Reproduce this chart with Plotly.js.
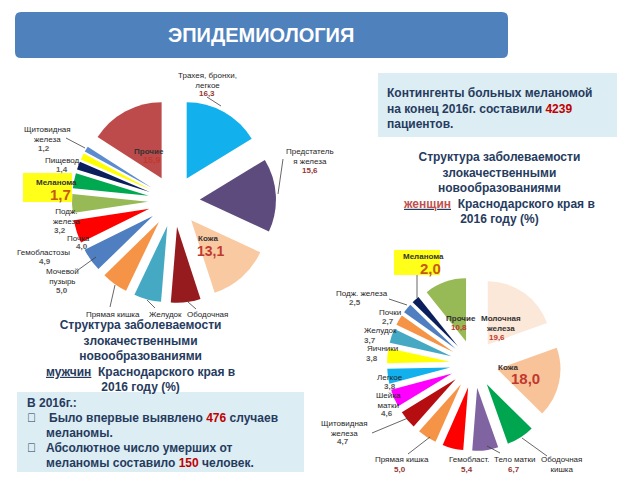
<!DOCTYPE html>
<html>
<head>
<meta charset="utf-8">
<script src="https://cdn.plot.ly/plotly-3.0.1.min.js"></script>
<style>body{margin:0;} #myDiv{width:640px;height:480px;}</style>
</head>
<body>
<div id="myDiv"></div>
<script>
// men, clockwise from 12 o'clock
var menLabels = ['Трахея, бронхи,<br>легкое', 'Предстатель<br>я железа', 'Кожа', 'Ободочная<br>кишка', 'Желудок',
  'Прямая кишка', 'Мочевой<br>пузырь', 'Гемобластозы', 'Почка', 'Подж.<br>железа', 'Меланома', 'Пищевод',
  'Щитовидная<br>железа', 'Прочие'];
var menValues = [16.3, 15.6, 13.1, 6.3, 5.8, 5.6, 5.0, 4.9, 4.0, 3.2, 1.7, 1.4, 1.2, 15.9];
var menColors = ['#12B0EC', '#5D4B7D', '#F9C9A2', '#961B1F', '#45A9C4', '#F59447', '#4F7FC0', '#FF0000',
  '#97B956', '#00A84F', '#0A1F5C', '#FFFF00', '#5B8CD0', '#BE4B4B'];

// women, clockwise from 12 o'clock
var womenLabels = ['Молочная<br>железа', 'Кожа', 'Ободочная<br>кишка', 'Тело матки', 'Гемобласт.', 'Прямая кишка',
  'Щитовидная<br>железа', 'Шейка<br>матки', 'Легкое', 'Яичники', 'Желудок', 'Почки', 'Подж. железа',
  'Меланома', 'Прочие'];
var womenValues = [19.6, 18.0, 7.2, 6.7, 5.4, 5.0, 4.7, 4.6, 3.8, 3.8, 3.7, 2.7, 2.5, 2.0, 10.8];
var womenColors = ['#FCE8D8', '#F9C39A', '#00A550', '#8064A2', '#FF0000', '#F59447', '#B50D10', '#FF00FF',
  '#12B0EC', '#FFFF00', '#45A9C4', '#F59447', '#4F7FC0', '#0A1F5C', '#97B956'];

var FONT = 'Liberation Sans, Arial, sans-serif';
var RED = '#C0392F', RED_D = '#953735', ORANGE = '#C55A11', GREY = '#5A5A5A', INK = '#262626', NAVY = '#263B5E';

function X(p) { return p / 640; }
function Y(p) { return 1 - p / 480; }
function fmt(v) { return v.toFixed(1).replace('.', ','); }

var annotations = [];
var shapes = [];

function note(x, y, text, size, color, opt) {
  opt = opt || {};
  annotations.push({
    xref: 'paper', yref: 'paper', x: X(x), y: Y(y), text: text, showarrow: false,
    xanchor: opt.xanchor || 'center', yanchor: opt.yanchor || 'middle', align: opt.align || 'center',
    font: {family: FONT, size: size, color: color}
  });
}
function rect(x0, y0, x1, y1, fill) {
  shapes.push({type: 'rect', xref: 'paper', yref: 'paper', x0: X(x0), y0: Y(y0), x1: X(x1), y1: Y(y1),
    fillcolor: fill, line: {width: 0}, layer: 'below'});
}
function leader(l) {
  shapes.push({type: 'line', xref: 'paper', yref: 'paper', x0: X(l[0]), y0: Y(l[1]), x1: X(l[2]), y1: Y(l[3]),
    line: {color: '#404040', width: 0.8}});
}

// callout placement (px): n = name centre x / top y, v = value centre
var menCallouts = [
  {n: [207, 69], v: [207, 94], vc: RED_D, line: [207, 97, 221, 106]},
  {n: [310, 145], v: [310, 170], vc: RED_D, line: [283, 159, 278, 194]},
  {n: [208, 232], b: true, v: [210, 251], vs: 14, vc: RED},
  {n: [207, 308], first: true, line: [188, 302, 196, 309]},
  {n: [165, 308], line: [147, 300, 155, 308]},
  {n: [113, 308], line: [110, 307, 115, 285]},
  {n: [62, 265], v: [62, 290], line: [78, 270, 96, 257]},
  {n: [43, 246], v: [45, 261]},
  {n: [78, 232], v: [82, 247]},
  {n: [66, 205], v: [60, 230]},
  {n: [56, 176], b: true, v: [60, 194], vs: 15, vc: ORANGE},
  {n: [62, 154], v: [62, 169]},
  {n: [47, 123], v: [44, 148], line: [66, 138, 85, 148]},
  {n: [149, 145], b: true, v: [152, 160], vs: 9, vc: RED}
];
var womenCallouts = [
  {n: [501, 312], b: true, v: [497, 337], vs: 8, vc: RED},
  {n: [508, 361], b: true, v: [525, 378], vs: 15, vc: RED},
  {n: [561, 453], line: [547, 456, 522, 438]},
  {n: [514, 453], v: [514, 469], vc: RED_D, line: [500, 453, 487, 446]},
  {n: [469, 453], v: [467, 469], vc: RED_D},
  {n: [402, 453], v: [400, 469], vc: RED_D, line: [408, 454, 430, 437]},
  {n: [344, 417], v: [343, 441], line: [372, 433, 408, 418]},
  {n: [388, 389], v: [387, 413]},
  {n: [390, 371], v: [390, 386]},
  {n: [382, 342], v: [372, 358]},
  {n: [380, 324], v: [370, 340]},
  {n: [390, 306], v: [388, 321]},
  {n: [362, 287], v: [355, 302], line: [389, 299, 407, 305]},
  {n: [423, 250], b: true, v: [430, 268], vs: 15, vc: ORANGE, line: [417, 275, 417, 298]},
  {n: [461, 312], b: true, v: [459, 327], vs: 8, vc: RED}
];

// header bar
var hx0 = 15, hx1 = 508, hy0 = 12, hy1 = 58, hr = 6;
shapes.push({type: 'path', xref: 'paper', yref: 'paper', fillcolor: '#4F81BD', line: {width: 0},
  path: 'M' + X(hx0 + hr) + ',' + Y(hy0) + ' L' + X(hx1 - hr) + ',' + Y(hy0) +
    ' Q' + X(hx1) + ',' + Y(hy0) + ' ' + X(hx1) + ',' + Y(hy0 + hr) +
    ' L' + X(hx1) + ',' + Y(hy1 - hr) + ' Q' + X(hx1) + ',' + Y(hy1) + ' ' + X(hx1 - hr) + ',' + Y(hy1) +
    ' L' + X(hx0 + hr) + ',' + Y(hy1) + ' Q' + X(hx0) + ',' + Y(hy1) + ' ' + X(hx0) + ',' + Y(hy1 - hr) +
    ' L' + X(hx0) + ',' + Y(hy0 + hr) + ' Q' + X(hx0) + ',' + Y(hy0) + ' ' + X(hx0 + hr) + ',' + Y(hy0) + ' Z'});
note(261, 35, '<b>ЭПИДЕМИОЛОГИЯ</b>', 20, '#ffffff');

// text boxes
rect(378, 73, 617, 137, '#DCEDF3');
rect(17, 392, 304, 472, '#DCEDF3');
rect(23, 173, 72, 202, '#FFFF1A');
rect(394, 250, 440, 275, '#FFFF1A');

note(385, 84, '<b>Контингенты больных меланомой<br>на конец 2016г. составили <span style="color:#C00000">4239</span><br>пациентов.</b>',
  12, NAVY, {xanchor: 'left', yanchor: 'top', align: 'left'});
note(499, 148, '<b>Структура заболеваемости<br>злокачественными<br>новообразованиями<br>' +
  '<u><span style="color:#C0504D">женщин</span></u>  Краснодарского края в<br>2016 году (%)</b>',
  12, NAVY, {yanchor: 'top'});
note(140, 316, '<b>Структура заболеваемости<br>злокачественными<br>новообразованиями<br>' +
  '<u>мужчин</u>  Краснодарского края в<br>2016 году (%)</b>',
  12, NAVY, {yanchor: 'top'});
note(25, 403, '<b>В 2016г.:</b>', 12, NAVY, {xanchor: 'left'});
note(25, 418, '\uF0A7', 12, NAVY, {xanchor: 'left'});
note(25, 448, '\uF0A7', 12, NAVY, {xanchor: 'left'});
note(47, 418, '<b>Было впервые выявлено <span style="color:#C00000">476</span> случаев</b>', 12, NAVY, {xanchor: 'left'});
note(44, 433, '<b>меланомы.</b>', 12, NAVY, {xanchor: 'left'});
note(44, 448, '<b>Абсолютное число умерших от</b>', 12, NAVY, {xanchor: 'left'});
note(44, 463, '<b>меланомы составило <span style="color:#C00000">150</span> человек.</b>', 12, NAVY, {xanchor: 'left'});

function callouts(list, labels, values) {
  list.forEach(function (c, i) {
    var label = c.first ? labels[i].split('<br>')[0] : labels[i];
    var name = c.b ? '<b>' + label + '</b>' : label;
    note(c.n[0], c.n[1], name, 8, c.b ? '#333333' : INK, {yanchor: 'top'});
    if (c.v) note(c.v[0], c.v[1], '<b>' + fmt(values[i]) + '</b>', c.vs || 8, c.vc || GREY);
    if (c.line) leader(c.line);
  });
}
callouts(menCallouts, menLabels, menValues);
callouts(womenCallouts, womenLabels, womenValues);

var men = {
  type: 'pie', labels: menLabels, values: menValues, sort: false, direction: 'clockwise', rotation: 0,
  marker: {colors: menColors, line: {width: 0}}, pull: 0.34, textinfo: 'none', hoverinfo: 'skip',
  domain: {x: [X(72), X(276)], y: [Y(303), Y(99)]}
};
var women = {
  type: 'pie', labels: womenLabels, values: womenValues, sort: false, direction: 'clockwise', rotation: 0,
  marker: {colors: womenColors, line: {width: 0}}, pull: 0.38, textinfo: 'none', hoverinfo: 'skip',
  domain: {x: [X(387), X(561)], y: [Y(451), Y(277)]}
};

var layout = {
  width: 640, height: 480, margin: {l: 0, r: 0, t: 0, b: 0},
  showlegend: false, paper_bgcolor: '#ffffff',
  font: {family: FONT},
  shapes: shapes, annotations: annotations
};

Plotly.newPlot('myDiv', [men, women], layout, {displayModeBar: false, staticPlot: true});
</script>
</body>
</html>
